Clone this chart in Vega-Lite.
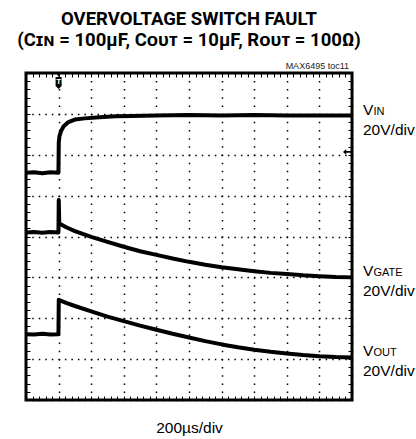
{
  "$schema": "https://vega.github.io/schema/vega-lite/v6.json",
  "width": 326,
  "height": 327,
  "autosize": {"type": "none"},
  "padding": {"left": 26, "top": 73, "right": 64, "bottom": 39},
  "background": "white",
  "title": {
    "text": ["OVERVOLTAGE SWITCH FAULT", "(Cɪɴ = 100µF, Cᴏᴜᴛ = 10µF, Rᴏᴜᴛ = 100Ω)"],
    "font": "Roboto, 'Liberation Sans', sans-serif",
    "fontWeight": "bold",
    "fontSize": 18.5,
    "lineHeight": 21,
    "anchor": "middle",
    "color": "black",
    "offset": 12
  },
  "config": {
    "view": {"stroke": "black", "strokeWidth": 3},
    "axis": {"labels": false, "domain": false, "tickColor": "black", "tickWidth": 1, "tickSize": -4}
  },
  "data": {
    "values": [
      {"t": 0, "v": 5.56, "s": "VIN"}, {"t": 50, "v": 5.57, "s": "VIN"}, {"t": 100, "v": 5.55, "s": "VIN"}, {"t": 150, "v": 5.57, "s": "VIN"}, {"t": 199, "v": 5.56, "s": "VIN"},
      {"t": 201, "v": 6.3, "s": "VIN"}, {"t": 205, "v": 6.45, "s": "VIN"}, {"t": 215, "v": 6.58, "s": "VIN"}, {"t": 230, "v": 6.69, "s": "VIN"}, {"t": 260, "v": 6.8, "s": "VIN"},
      {"t": 300, "v": 6.86, "s": "VIN"}, {"t": 360, "v": 6.89, "s": "VIN"}, {"t": 450, "v": 6.92, "s": "VIN"}, {"t": 550, "v": 6.94, "s": "VIN"}, {"t": 650, "v": 6.95, "s": "VIN"},
      {"t": 800, "v": 6.96, "s": "VIN"}, {"t": 1000, "v": 6.97, "s": "VIN"}, {"t": 1200, "v": 6.96, "s": "VIN"}, {"t": 1400, "v": 6.97, "s": "VIN"}, {"t": 1600, "v": 6.96, "s": "VIN"},
      {"t": 1800, "v": 6.96, "s": "VIN"}, {"t": 2000, "v": 6.96, "s": "VIN"},
      {"t": 0, "v": 4.1, "s": "VGATE"}, {"t": 50, "v": 4.11, "s": "VGATE"}, {"t": 100, "v": 4.09, "s": "VGATE"}, {"t": 150, "v": 4.11, "s": "VGATE"}, {"t": 199, "v": 4.1, "s": "VGATE"},
      {"t": 201, "v": 4.89, "s": "VGATE"}, {"t": 204, "v": 4.32, "s": "VGATE"}, {"t": 250, "v": 4.22, "s": "VGATE"}, {"t": 300, "v": 4.13, "s": "VGATE"}, {"t": 400, "v": 3.99, "s": "VGATE"},
      {"t": 500, "v": 3.87, "s": "VGATE"}, {"t": 600, "v": 3.75, "s": "VGATE"}, {"t": 700, "v": 3.64, "s": "VGATE"}, {"t": 800, "v": 3.55, "s": "VGATE"}, {"t": 900, "v": 3.46, "s": "VGATE"},
      {"t": 1000, "v": 3.38, "s": "VGATE"}, {"t": 1100, "v": 3.31, "s": "VGATE"}, {"t": 1200, "v": 3.25, "s": "VGATE"}, {"t": 1300, "v": 3.2, "s": "VGATE"}, {"t": 1400, "v": 3.15, "s": "VGATE"},
      {"t": 1500, "v": 3.11, "s": "VGATE"}, {"t": 1600, "v": 3.08, "s": "VGATE"}, {"t": 1700, "v": 3.05, "s": "VGATE"}, {"t": 1800, "v": 3.03, "s": "VGATE"}, {"t": 1900, "v": 3.01, "s": "VGATE"},
      {"t": 2000, "v": 3.0, "s": "VGATE"},
      {"t": 0, "v": 1.61, "s": "VOUT"}, {"t": 50, "v": 1.6, "s": "VOUT"}, {"t": 100, "v": 1.62, "s": "VOUT"}, {"t": 150, "v": 1.6, "s": "VOUT"}, {"t": 199, "v": 1.61, "s": "VOUT"},
      {"t": 201, "v": 2.45, "s": "VOUT"}, {"t": 250, "v": 2.37, "s": "VOUT"}, {"t": 300, "v": 2.3, "s": "VOUT"}, {"t": 400, "v": 2.17, "s": "VOUT"}, {"t": 500, "v": 2.04, "s": "VOUT"},
      {"t": 600, "v": 1.93, "s": "VOUT"}, {"t": 700, "v": 1.82, "s": "VOUT"}, {"t": 800, "v": 1.72, "s": "VOUT"}, {"t": 900, "v": 1.62, "s": "VOUT"}, {"t": 1000, "v": 1.53, "s": "VOUT"},
      {"t": 1100, "v": 1.44, "s": "VOUT"}, {"t": 1200, "v": 1.36, "s": "VOUT"}, {"t": 1300, "v": 1.29, "s": "VOUT"}, {"t": 1400, "v": 1.23, "s": "VOUT"}, {"t": 1500, "v": 1.18, "s": "VOUT"},
      {"t": 1600, "v": 1.14, "s": "VOUT"}, {"t": 1700, "v": 1.1, "s": "VOUT"}, {"t": 1800, "v": 1.07, "s": "VOUT"}, {"t": 1900, "v": 1.05, "s": "VOUT"}, {"t": 2000, "v": 1.04, "s": "VOUT"}
    ]
  },
  "resolve": {"axis": {"x": "independent", "y": "independent"}},
  "layer": [
    {
      "mark": {"type": "line", "color": "black", "strokeWidth": 4, "strokeJoin": "round"},
      "encoding": {
        "x": {
          "field": "t", "type": "quantitative",
          "scale": {"domain": [0, 2000], "nice": false, "zero": false},
          "axis": {
            "orient": "bottom",
            "values": [0,40,80,120,160,200,240,280,320,360,400,440,480,520,560,600,640,680,720,760,800,840,880,920,960,1000,1040,1080,1120,1160,1200,1240,1280,1320,1360,1400,1440,1480,1520,1560,1600,1640,1680,1720,1760,1800,1840,1880,1920,1960,2000],
            "grid": true, "gridColor": "black", "gridWidth": 1.5, "gridDash": [1.5, 6.675], "gridDashOffset": 0.75,
            "gridOpacity": {"condition": {"test": "datum.value % 200 === 0", "value": 1}, "value": 0},
            "title": "200µs/div",
            "titleFont": "'Liberation Sans', sans-serif",
            "titleFontSize": 15.5, "titleFontWeight": "normal", "titleColor": "black", "titlePadding": 20
          }
        },
        "y": {
          "field": "v", "type": "quantitative",
          "scale": {"domain": [0, 8], "nice": false, "zero": false},
          "axis": {
            "orient": "left",
            "values": [0,0.2,0.4,0.6,0.8,1,1.2,1.4,1.6,1.8,2,2.2,2.4,2.6,2.8,3,3.2,3.4,3.6,3.8,4,4.2,4.4,4.6,4.8,5,5.2,5.4,5.6,5.8,6,6.2,6.4,6.6,6.8,7,7.2,7.4,7.6,7.8,8],
            "grid": true, "gridColor": "black", "gridWidth": 1.5, "gridDash": [1.5, 5.02], "gridDashOffset": 0.75,
            "gridOpacity": {"condition": {"test": "datum.value % 1 === 0", "value": 1}, "value": 0},
            "title": null
          }
        },
        "detail": {"field": "s"}
      }
    },
    {
      "transform": [{"filter": "datum.t === 2000"}],
      "mark": {"type": "text", "text": "V", "align": "left", "baseline": "alphabetic", "dx": 11, "dy": -1, "fontSize": 15.5, "font": "'Liberation Sans', sans-serif", "color": "black"},
      "encoding": {
        "x": {
          "field": "t", "type": "quantitative",
          "axis": {"orient": "top", "values": [0,40,80,120,160,200,240,280,320,360,400,440,480,520,560,600,640,680,720,760,800,840,880,920,960,1000,1040,1080,1120,1160,1200,1240,1280,1320,1360,1400,1440,1480,1520,1560,1600,1640,1680,1720,1760,1800,1840,1880,1920,1960,2000], "grid": false, "title": null}
        },
        "y": {
          "field": "v", "type": "quantitative",
          "axis": {"orient": "right", "values": [0,0.2,0.4,0.6,0.8,1,1.2,1.4,1.6,1.8,2,2.2,2.4,2.6,2.8,3,3.2,3.4,3.6,3.8,4,4.2,4.4,4.6,4.8,5,5.2,5.4,5.6,5.8,6,6.2,6.4,6.6,6.8,7,7.2,7.4,7.6,7.8,8], "grid": false, "title": null}
        }
      }
    },
    {
      "transform": [{"filter": "datum.t === 2000"}, {"calculate": "substring(datum.s, 1)", "as": "sub"}],
      "mark": {"type": "text", "align": "left", "baseline": "alphabetic", "dx": 21.5, "dy": -1, "fontSize": 11, "font": "'Liberation Sans', sans-serif", "color": "black"},
      "encoding": {
        "x": {"field": "t", "type": "quantitative", "axis": null},
        "y": {"field": "v", "type": "quantitative", "axis": null},
        "text": {"field": "sub"}
      }
    },
    {
      "transform": [{"filter": "datum.t === 2000"}],
      "mark": {"type": "text", "text": "20V/div", "align": "left", "baseline": "alphabetic", "dx": 11, "dy": 19, "fontSize": 15.5, "font": "'Liberation Sans', sans-serif", "color": "black"},
      "encoding": {
        "x": {"field": "t", "type": "quantitative", "axis": null},
        "y": {"field": "v", "type": "quantitative", "axis": null}
      }
    },
    {
      "data": {"values": [{}]},
      "mark": {"type": "text", "text": "MAX6495 toc11", "align": "right", "baseline": "alphabetic", "dx": -3, "dy": -4.5, "fontSize": 9, "font": "'Liberation Sans', sans-serif", "color": "#222222"},
      "encoding": {
        "x": {"datum": 2000, "type": "quantitative", "axis": null},
        "y": {"datum": 8, "type": "quantitative", "axis": null}
      }
    },
    {
      "data": {"values": [{}]},
      "mark": {"type": "point", "shape": "M-0.5,-1L0.5,-1L0.5,0.5L0,1L-0.5,0.5Z", "size": 144, "filled": true, "color": "black", "opacity": 1, "yOffset": 10},
      "encoding": {
        "x": {"datum": 200, "type": "quantitative", "axis": null},
        "y": {"datum": 8, "type": "quantitative", "axis": null}
      }
    },
    {
      "data": {"values": [{}]},
      "mark": {"type": "text", "text": "T", "align": "center", "baseline": "middle", "dy": 9, "fontSize": 8, "fontWeight": "bold", "font": "'Liberation Sans', sans-serif", "color": "white"},
      "encoding": {
        "x": {"datum": 200, "type": "quantitative", "axis": null},
        "y": {"datum": 8, "type": "quantitative", "axis": null}
      }
    },
    {
      "data": {"values": [{}]},
      "mark": {"type": "point", "shape": "triangle-down", "size": 20, "filled": true, "color": "black", "opacity": 1, "yOffset": 2},
      "encoding": {
        "x": {"datum": 200, "type": "quantitative", "axis": null},
        "y": {"datum": 8, "type": "quantitative", "axis": null}
      }
    },
    {
      "data": {"values": [{}]},
      "mark": {"type": "point", "shape": "M-1,0L-0.2,-0.7L-0.2,-0.2L1,-0.2L1,0.2L-0.2,0.2L-0.2,0.7Z", "size": 64, "filled": true, "color": "black", "opacity": 1, "xOffset": -5},
      "encoding": {
        "x": {"datum": 2000, "type": "quantitative", "axis": null},
        "y": {"datum": 6.07, "type": "quantitative", "axis": null}
      }
    }
  ]
}
